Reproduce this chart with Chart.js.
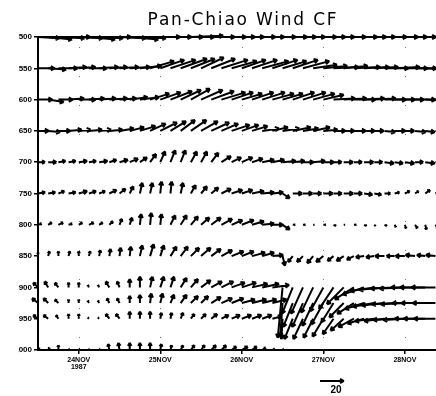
<!DOCTYPE html>
<html>
<head>
<meta charset="utf-8">
<script src="https://cdn.jsdelivr.net/npm/chart.js@4/dist/chart.umd.min.js"></script>
<style>
  html, body { margin: 0; padding: 0; background: #fff; overflow: hidden; }
  #wrap { width: 466px; height: 396px; }
</style>
</head>
<body>
<div id="wrap"><canvas id="chart" width="466" height="396"></canvas></div>
<script>
// hours after 24NOV1987 00Z, 3-hourly soundings
const hours = [-12, -9, -6, -3, 0, 3, 6, 9, 12, 15, 18, 21, 24, 27, 30, 33, 36, 39, 42, 45,
               48, 51, 54, 57, 60, 63, 66, 69, 72, 75, 78, 81, 84, 87, 90, 93, 96, 99, 102, 105];
const levels = [500, 550, 600, 650, 700, 750, 800, 850, 900, 925, 950, 1000];
const yTicks = [500, 550, 600, 650, 700, 750, 800, 850, 900, 950, 1000];
const dayTicks = [0, 24, 48, 72, 96];
const dayLabels = [["24NOV", "1987"], "25NOV", "26NOV", "27NOV", "28NOV"];
const titleText = 'Pan-Chiao Wind CF';

// u (east) and v (north) components, m/s
const u500 = [18,20,22,18,20,22,20,18,22,24, 22,25,26,27,28,27,28,29,28,27, 28,27,28,29,28,27,28,27,26,27, 28,27,26,27,28,27,26,27,26,27];
const v500 = [-1,-2,-1,0,-1,-2,-1,0,-1,-2, -1,0,0,0,0,1,0,0,0,0, 0,0,0,0,0,0,0,0,0,0, 0,0,0,0,0,0,0,0,0,0];
const u550 = [14,15,16,15,14,15,16,15,16,17, 18, 20,20,21,22,20,19,20,22,21,20,21,22,21,20,21,22,20, 20,21,20,22,21,20,20,21,19,18,18,17];
const v550 = [0,-1,0,1,1,0,1,1,1,1, 2, 6,7,7,8,8,9,8,7,6,7,7,6,7,6,7,6,3, 2,1,2,1,1,1,0,1,0,0,-1,0];
const u600 = [12,13,12,13,14,13,14,15,14,15, 16, 16,17,18,17,16,18,19,20,18,17,18,19,18,17,18,19,18,17, 18,19,18,17,18,18,17,16,17,16,15];
const v600 = [0,-2,0,1,0,1,1,1,1,2, 2, 5,6,7,8,9,8,7,6,6,5,6,6,5,5,6,6,5,4, 1,1,0,1,1,0,0,0,0,-1,0];
const u650 = [9,10,10,11,10,11,10,11,12,12, 13, 13,14,13,12,13,14,15,14,15,14,13, 14,13,14,15,13,14,12, 10,9,10,9,8,9,9,8,9,8,8];
const v650 = [0,-1,0,1,1,1,1,1,2,3, 4, 6,7,8,9,9,8,7,6,5,5,4, 2,3,2,3,2,3,1, 0,0,0,0,0,-1,0,0,-1,-1,-1];
const u700 = [6,7,6,6,7,6,7,6,7,7, 6, 5,4,4,4,5,5,6,8,8,9, 9,10,10,11,10,9,10,9, 7,8,7,8,7,8,7,8,7,8,7];
const v700 = [0,0,1,1,1,1,1,2,2,3, 4, 7,9,10,10,9,9,8,5,4,4, 3,2,2,1,1,0,1,0, 0,0,0,0,0,-1,-1,-1,0,-1,0];
const u750 = [6,6,5,6,7,6,5,6,5, 3,2,2,1,1,2, 4,5,6,8,9,9, 10,10,9, 6, 8,8,7,8,7,8,7,7,6, 5,4,4,3,4,4];
const v750 = [1,1,2,1,2,2,2,3,4, 6,9,9,10,10,9, 7,6,5,4,3,3, 2,1,1, -4, 0,0,0,0,0,0,0,-1,-1, 0,1,2,2,3,2];
const u800 = [3,3,4,3,3,4,3,3, 2,2, 1,1,1, 4,5,6,7,8, 9,9,10,10, 10,9, 6, 2,2,1,2,2,1,2,2,1,2,1, 1,2,1,2];
const v800 = [1,2,2,1,2,2,2,3, 5,6, 9,10,9, 8,8,7,6,6, 5,4,4,3, 1,0, -4, 0,0,0,0,-1,0,0,-1,-1,-1,-2, -3,-3,-4,-3];
const u850 = [0,1,0,1,0,1,1, 1,1,1, 2,3,3, 5,6,7,8,8,9,10,10,11,10, 9, 2, -4,-5,-5,-6,-5,-6,-6, -7,-7,-8,-7,-8,-8,-7,-8];
const v850 = [3,4,4,4,4,4,5, 6,7,8, 9,10,9, 8,8,7,7,6,5,4,4,3,3, 1, -8, -5,-5,-6,-5,-4,-4,-3, -1,-1,0,0,0,1,1,1];
const u900 = [-4,-3,-3,0,0,-1, -1,-3,-2, 0,0, 2,3,3, 5,6,8,9,10,11,12,13,14,14, -4, -9,-10,-10,-11,-12, -14,-16,-18, -20,-21,-20,-21,-20,-21,-20];
const v900 = [4,5,4,4,4,2, 2,5,5, 7,9, 9,9,9, 8,7,6,5,5,4,4,3,3,2, -42, -22,-22,-21,-20,-18, -14,-10,-6, -3,-2,-1,-1,0,0,0];
const u925 = [-5,-4,-3,0,0,-1, -1,-2,-2, 0,0,1,2, 3,5,6,6, 8,9,10,11,12,12,12, -2, -8,-9,-9,-10,-10, -12,-14,-16, -18,-19,-19,-20,-19,-20,-19];
const v925 = [4,4,3,3,3,2, 2,4,4, 6,7,8,8, 7,7,6,6, 5,4,4,3,3,3,3, -28, -20,-20,-19,-18,-16, -12,-9,-5, -3,-2,-1,-1,0,0,0];
const u950 = [-4,-4,-2,0,0,-1, -1,-3,-3, 0,0,0, 1,1,2,3, 4,5,6,7,8,8,8,8, -1, -7,-8,-8,-9,-9, -11,-13,-14, -16,-17,-18,-18,-17,-18,-18];
const v950 = [3,3,3,4,4,1, 1,4,4, 6,6,6, 5,5,5,4, 4,4,3,3,3,3,3,2, -17, -17,-17,-16,-15,-13, -10,-7,-4, -2,-2,-1,-1,0,0,0];
const u1000 = [1,1,0,1,1,0,1, -1,-1,0,0,0,1, 1,2,3,3, 4,4,4,5,4,3, 2, 1,
               null,null,null,null,null,null,null,null,null,null,null,null,null,null,null];
const v1000 = [2,2,4,1,1,1,1, 5,6,6,6,6,5, 4,4,4,4, 4,4,3,3,3,2, 1, 1,
               null,null,null,null,null,null,null,null,null,null,null,null,null,null,null];

const uByLevel = [u500, u550, u600, u650, u700, u750, u800, u850, u900, u925, u950, u1000];
const vByLevel = [v500, v550, v600, v650, v700, v750, v800, v850, v900, v925, v950, v1000];

const PX_PER_MS = 1.2;   // arrow length per m/s
const REF_SPEED = 20;

function drawArrow(ctx, x0, y0, u, v) {
  const dx = u * PX_PER_MS, dy = -v * PX_PER_MS;
  const len = Math.hypot(dx, dy);
  if (len < 1) { ctx.fillRect(x0 - 1.5, y0 - 1.5, 3, 3); return; }
  const x1 = x0 + dx, y1 = y0 + dy;
  const a = Math.atan2(dy, dx), h = Math.min(4.5, len * 0.5);
  ctx.beginPath();
  ctx.moveTo(x0, y0); ctx.lineTo(x1, y1);
  ctx.moveTo(x1, y1); ctx.lineTo(x1 - h * Math.cos(a - 0.5), y1 - h * Math.sin(a - 0.5));
  ctx.moveTo(x1, y1); ctx.lineTo(x1 - h * Math.cos(a + 0.5), y1 - h * Math.sin(a + 0.5));
  ctx.stroke();
}

const windArrows = {
  id: 'windArrows',
  afterDatasetsDraw(chart) {
    const ctx = chart.ctx, area = chart.chartArea, xs = chart.scales.x;
    ctx.save();
    // dotted day lines
    ctx.strokeStyle = '#777'; ctx.lineWidth = 1; ctx.setLineDash([1, 28]);
    dayTicks.forEach(d => {
      const x = Math.round(xs.getPixelForValue(d)) + 0.5;
      ctx.beginPath(); ctx.moveTo(x, area.top + 10); ctx.lineTo(x, area.bottom); ctx.stroke();
    });
    ctx.setLineDash([]);
    // wind vectors, tail at the grid point
    ctx.strokeStyle = '#000'; ctx.fillStyle = '#000'; ctx.lineWidth = 2;
    chart.data.datasets.forEach((ds, i) => {
      chart.getDatasetMeta(i).data.forEach((pt, j) => {
        drawArrow(ctx, pt.x, pt.y, ds.data[j].u, ds.data[j].v);
      });
    });
    // frame
    ctx.lineWidth = 2;
    ctx.strokeRect(area.left, area.top, area.right - area.left, area.bottom - area.top);
    // reference vector
    ctx.lineWidth = 1.8;
    drawArrow(ctx, 320, 381, REF_SPEED, 0);
    ctx.font = 'bold 10px "Liberation Sans"';
    ctx.textAlign = 'center'; ctx.textBaseline = 'top';
    ctx.fillText(String(REF_SPEED), 336, 385);
    // title
    ctx.font = '17px "DejaVu Sans"';
    ctx.letterSpacing = '1.8px';
    ctx.textBaseline = 'middle';
    ctx.fillText(titleText, 243, 21);
    ctx.restore();
  }
};

const datasets = levels.map((p, i) => ({
  label: String(p),
  data: hours.map((h, k) => ({ x: h, y: p, u: uByLevel[i][k], v: vByLevel[i][k] }))
             .filter(d => d.u !== null),
  pointRadius: 0,
  showLine: false
}));

new Chart('chart', {
  type: 'scatter',
  data: { datasets },
  plugins: [windArrows],
  options: {
    responsive: false,
    animation: false,
    layout: { padding: { left: 18, right: 0, top: 37, bottom: 0 } },
    plugins: {
      legend: { display: false },
      tooltip: { enabled: false },
      title: { display: false }
    },
    scales: {
      x: {
        type: 'linear', min: -12, max: 114,
        afterBuildTicks: s => { s.ticks = dayTicks.map(v => ({ value: v })); },
        afterFit: s => { s.height = 46; },
        ticks: {
          autoSkip: false, maxRotation: 0, padding: 2, color: '#000',
          font: { family: 'Liberation Sans', size: 7, weight: 'bold', lineHeight: 1.05 },
          callback: (v) => dayLabels[dayTicks.indexOf(v)]
        },
        grid: { drawOnChartArea: false, tickLength: 4, color: '#000', lineWidth: 1.5 },
        border: { display: false }
      },
      y: {
        type: 'linear', reverse: true, min: 500, max: 1000,
        afterBuildTicks: s => { s.ticks = yTicks.map(v => ({ value: v })); },
        afterFit: s => { s.width = 20; },
        ticks: {
          padding: 2, color: '#000',
          font: { family: 'Liberation Sans', size: 8, weight: 'bold' }
        },
        grid: { drawOnChartArea: false, tickLength: 4, color: '#000', lineWidth: 1.5 },
        border: { display: false }
      }
    }
  }
});
</script>
</body>
</html>
